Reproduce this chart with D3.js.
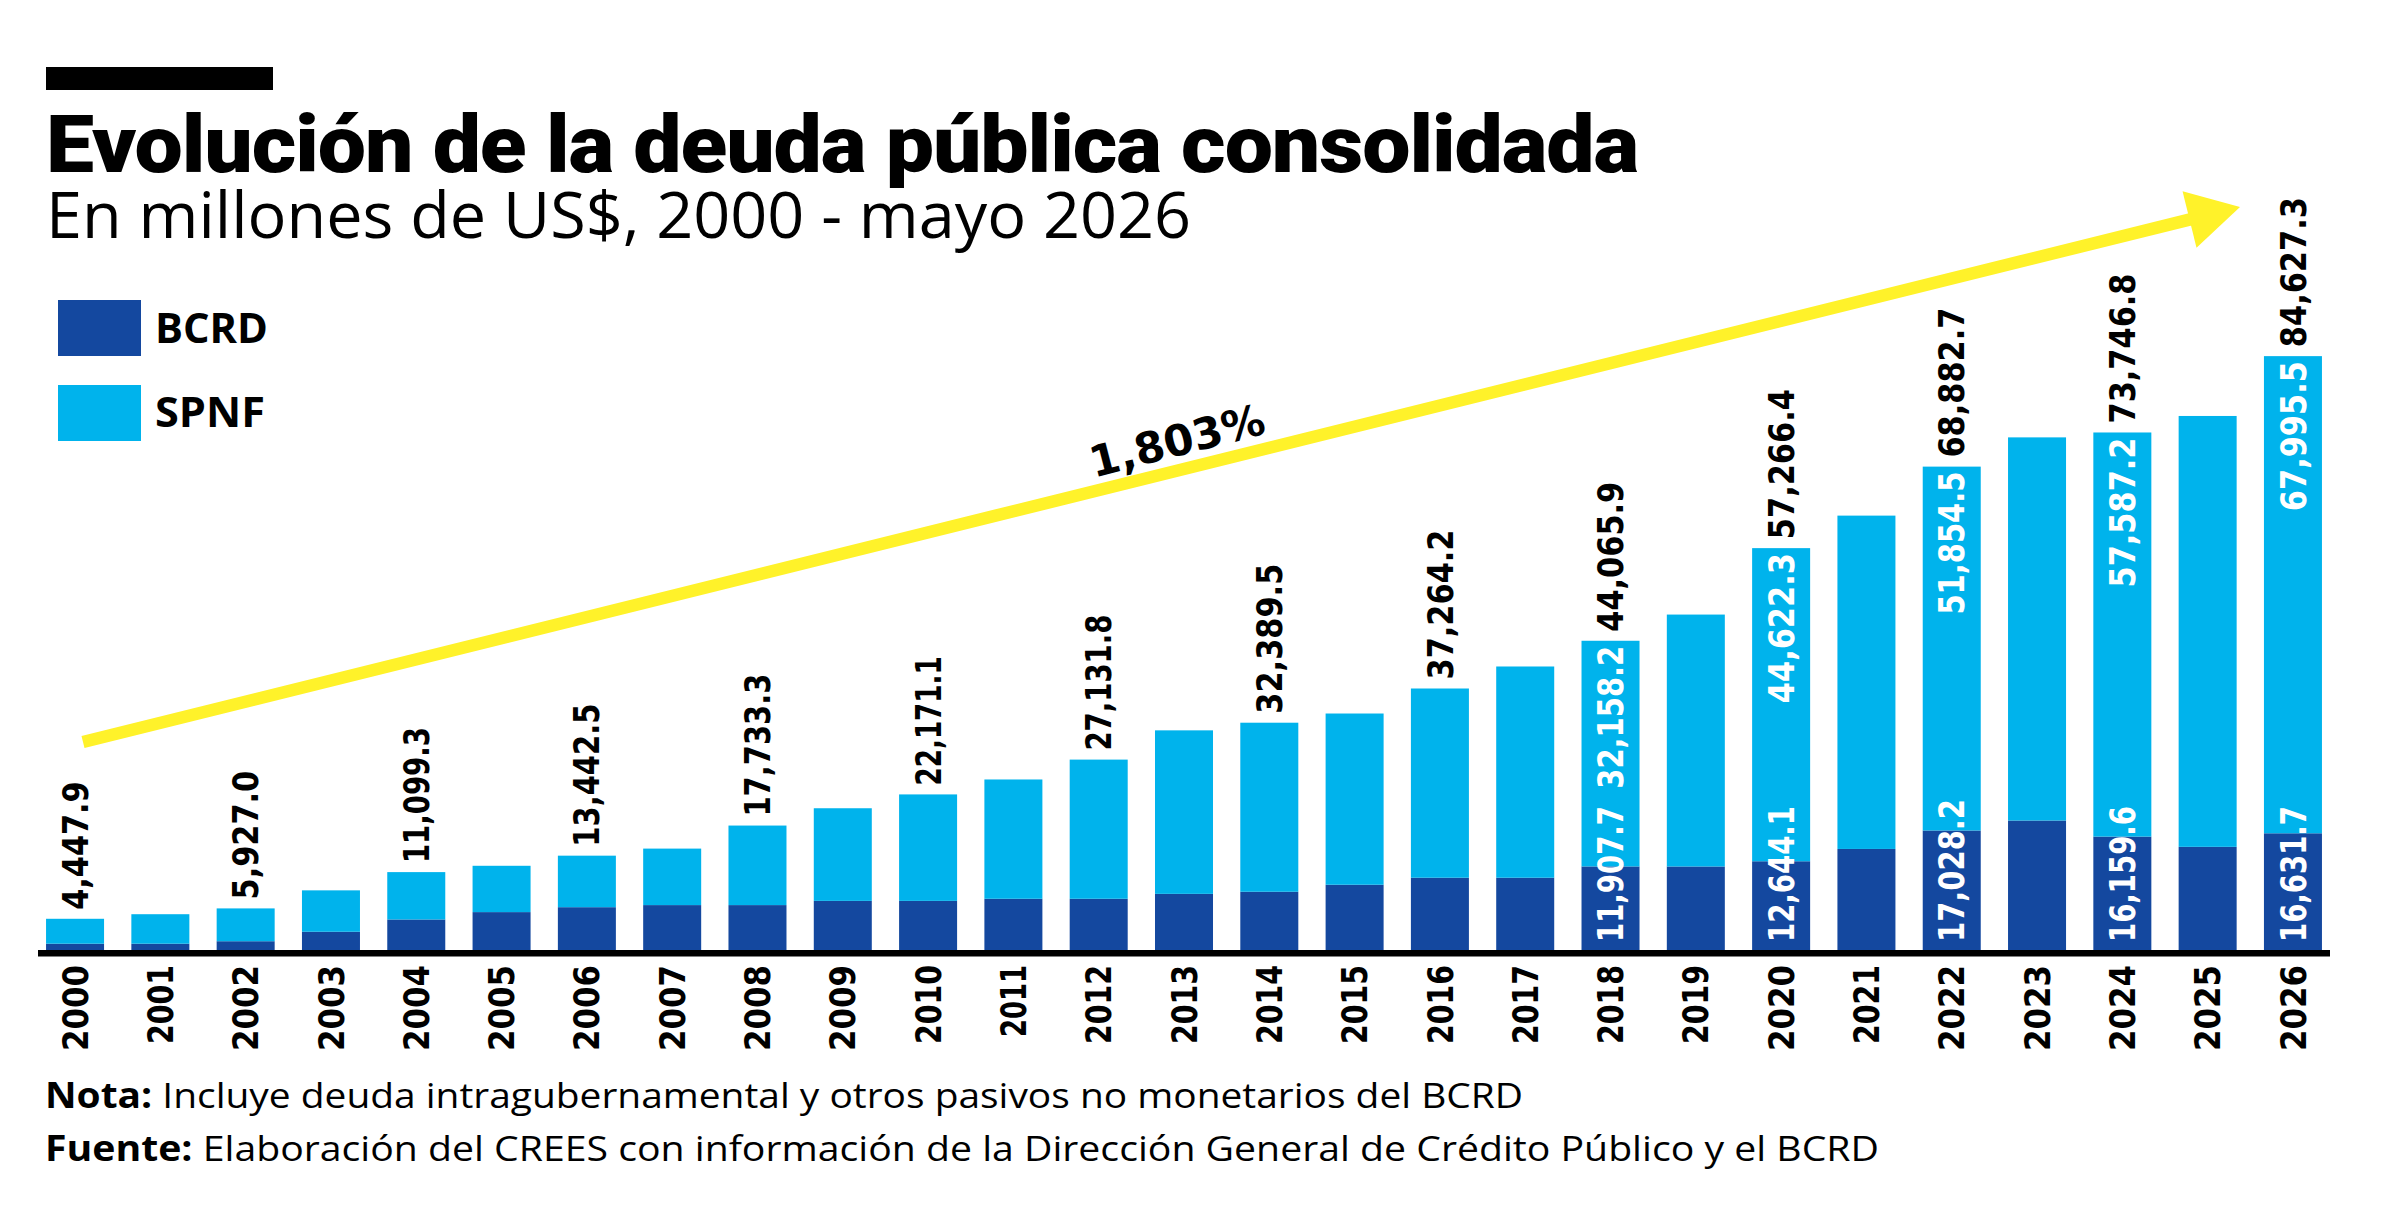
<!DOCTYPE html>
<html>
<head>
<meta charset="utf-8">
<script src="https://cdn.jsdelivr.net/npm/d3@7"></script>
<style>
  html, body { margin: 0; padding: 0; background: #fff; }
  svg { display: block; }
</style>
</head>
<body>
<svg id="chart" width="2400" height="1222"></svg>
<script>
// --- data (millones de US$) ---
const years = ["2000", "2001", "2002", "2003", "2004", "2005", "2006", "2007", "2008", "2009",
  "2010", "2011", "2012", "2013", "2014", "2015", "2016", "2017", "2018", "2019",
  "2020", "2021", "2022", "2023", "2024", "2025", "2026"];

const bcrd = [900, 900, 1250, 2600, 4350, 5400, 6100, 6400, 6400, 7000,
  7000, 7300, 7300, 8000, 8300, 9300, 10300, 10300, 11907.7, 11900,
  12644.1, 14400, 17028.2, 18450, 16159.6, 14700, 16631.7];

const spnf = [3547.9, 4200, 4677.0, 5900, 6749.3, 6600, 7342.5, 8050, 11333.3, 13200,
  15171.1, 17000, 19831.8, 23300, 24089.5, 24400, 26964.2, 30100, 32158.2, 35900,
  44622.3, 47500, 51854.5, 54600, 57587.2, 61400, 67995.5];

const totalLabels = ["4,447.9", "", "5,927.0", "", "11,099.3", "", "13,442.5", "", "17,733.3", "",
  "22,171.1", "", "27,131.8", "", "32,389.5", "", "37,264.2", "", "44,065.9", "",
  "57,266.4", "", "68,882.7", "", "73,746.8", "", "84,627.3"];

const segLabelYears = ["2018", "2020", "2022", "2024", "2026"];
const seriesNames = ["BCRD", "SPNF"];
const growthLabel = "1,803%";

const titleText = "Evolución de la deuda pública consolidada";
const subtitleText = "En millones de US$, 2000 - mayo 2026";
const notaText = "Incluye deuda intragubernamental y otros pasivos no monetarios del BCRD";
const fuenteText = "Elaboración del CREES con información de la Dirección General de Crédito Público y el BCRD";

// --- setup ---
const svg = d3.select("#chart");
const colors = { BCRD: "#14489f", SPNF: "#00b3ec" };
const arrowColor = "#fff22a";
const numFont = "'DejaVu Sans', Roboto, sans-serif";
const textFont = "'Open Sans', 'Noto Sans', sans-serif";

svg.append("rect").attr("width", 2400).attr("height", 1222).attr("fill", "#fff");

const x = d3.scaleBand()
  .domain(years)
  .range([32.4, 2335.6])
  .paddingInner(0.32)
  .paddingOuter(0.16);

const y = d3.scaleLinear()
  .domain([0, 80000])
  .range([950, 388.6]);

const rows = years.map((yr, i) => ({
  year: yr, BCRD: bcrd[i], SPNF: spnf[i], total: bcrd[i] + spnf[i], label: totalLabels[i]
}));

const stacked = d3.stack().keys(seriesNames)(rows);
const cx = d => x(d.year) + x.bandwidth() / 2;

// numbers in the original use proportional figures (narrow "1")
function numWidth(s) {
  let w = 0;
  for (const ch of s) w += ch === "1" ? 14.5 : (ch === "," || ch === ".") ? 10.5 : 21.5;
  return w;
}
function numStyle(sel) {
  sel.style("font-family", numFont).style("font-weight", 700).style("font-size", "35px")
    .attr("lengthAdjust", "spacingAndGlyphs")
    .attr("textLength", function () { return numWidth(this.textContent); });
}

// header
svg.append("rect").attr("x", 46).attr("y", 67).attr("width", 227).attr("height", 23).attr("fill", "#000");

svg.append("text")
  .attr("x", 46).attr("y", 172)
  .attr("textLength", 1592).attr("lengthAdjust", "spacingAndGlyphs")
  .style("font-family", "Roboto, sans-serif").style("font-weight", 900)
  .style("font-size", "80px").style("letter-spacing", "-1px")
  .text(titleText);

svg.append("text")
  .attr("x", 46).attr("y", 238)
  .attr("textLength", 1145).attr("lengthAdjust", "spacingAndGlyphs")
  .style("font-family", textFont).style("font-weight", 400)
  .style("font-size", "64px")
  .text(subtitleText);

// legend
const legend = svg.append("g");
seriesNames.forEach((name, i) => {
  legend.append("rect")
    .attr("x", 58).attr("y", 300 + i * 85)
    .attr("width", 83).attr("height", 56)
    .attr("fill", colors[name]);
  legend.append("text")
    .attr("x", 155).attr("y", 343 + i * 84)
    .attr("textLength", i === 0 ? 113 : 110).attr("lengthAdjust", "spacingAndGlyphs")
    .style("font-family", textFont).style("font-weight", 700)
    .style("font-size", "41px")
    .text(name);
});

// bars
svg.append("g")
  .selectAll("g")
  .data(stacked)
  .join("g")
  .attr("fill", s => colors[s.key])
  .selectAll("rect")
  .data(s => s)
  .join("rect")
  .attr("x", d => x(d.data.year))
  .attr("y", d => y(d[1]))
  .attr("width", x.bandwidth())
  .attr("height", d => y(d[0]) - y(d[1]));

// baseline
svg.append("line")
  .attr("x1", x.range()[0] + 5.6).attr("x2", x.range()[1] - 5.6)
  .attr("y1", y(0) + 3.2).attr("y2", y(0) + 3.2)
  .attr("stroke", "#000").attr("stroke-width", 6.5);

// year axis
const xAxis = d3.axisBottom(x).tickSize(0);
const axisG = svg.append("g")
  .attr("transform", `translate(0,${y(0)})`)
  .call(xAxis);
axisG.select(".domain").remove();
axisG.selectAll("text")
  .attr("transform", "rotate(-90)")
  .attr("x", -15).attr("y", 0).attr("dy", "0.36em")
  .attr("text-anchor", "end")
  .attr("fill", "#000")
  .call(numStyle);

// total labels above bars
svg.append("g")
  .selectAll("text")
  .data(rows.filter(d => d.label))
  .join("text")
  .attr("transform", d => `translate(${cx(d)},${y(d.total) - 9}) rotate(-90)`)
  .attr("dy", "0.36em")
  .attr("text-anchor", "start")
  .attr("fill", "#000")
  .text(d => d.label)
  .call(numStyle);

// segment labels inside bars
const fmt = d3.format(",.1f");
const segRows = rows.filter(d => segLabelYears.includes(d.year));
const inner = svg.append("g").attr("fill", "#fff");

inner.selectAll("text.bcrd")
  .data(segRows)
  .join("text")
  .attr("class", "bcrd")
  .attr("transform", d => `translate(${cx(d)},${y(0) - 8}) rotate(-90)`)
  .attr("dy", "0.36em")
  .attr("text-anchor", "start")
  .text(d => fmt(d.BCRD))
  .call(numStyle);

inner.selectAll("text.spnf")
  .data(segRows)
  .join("text")
  .attr("class", "spnf")
  .attr("transform", d => `translate(${cx(d)},${y(d.total) + 5}) rotate(-90)`)
  .attr("dy", "0.36em")
  .attr("text-anchor", "end")
  .text(d => fmt(d.SPNF))
  .call(numStyle);

// growth arrow
const a0 = [83, 742], tip = [2240, 207];
const len = Math.hypot(tip[0] - a0[0], tip[1] - a0[1]);
const u = [(tip[0] - a0[0]) / len, (tip[1] - a0[1]) / len];
const nrm = [-u[1], u[0]];
const headLen = 52, headHalf = 29;
const back = [tip[0] - headLen * u[0], tip[1] - headLen * u[1]];

svg.append("line")
  .attr("x1", a0[0]).attr("y1", a0[1])
  .attr("x2", back[0] + 6 * u[0]).attr("y2", back[1] + 6 * u[1])
  .attr("stroke", arrowColor).attr("stroke-width", 12.5);

svg.append("path")
  .attr("d", d3.line()([
    tip,
    [back[0] + headHalf * nrm[0], back[1] + headHalf * nrm[1]],
    [back[0] - headHalf * nrm[0], back[1] - headHalf * nrm[1]]
  ]) + "Z")
  .attr("fill", arrowColor);

const angle = Math.atan2(u[1], u[0]) * 180 / Math.PI;
const lx = 1184;
const t = (lx - a0[0]) / u[0];
const ly = a0[1] + t * u[1];
svg.append("text")
  .attr("transform", `translate(${lx - 14 * nrm[0]},${ly - 14 * nrm[1]}) rotate(${angle - 0.5})`)
  .attr("text-anchor", "middle")
  .style("font-family", "'DejaVu Sans', sans-serif").style("font-weight", 700)
  .style("font-size", "43px")
  .text(growthLabel);

// notes
const notes = [["Nota:", notaText, 1108, 1478], ["Fuente:", fuenteText, 1161, 1834]];
notes.forEach(([head, body, yy, w]) => {
  const t = svg.append("text")
    .attr("x", 45).attr("y", yy)
    .attr("textLength", w).attr("lengthAdjust", "spacingAndGlyphs")
    .style("font-family", textFont).style("font-size", "35px");
  t.append("tspan").style("font-weight", 700).text(head);
  t.append("tspan").style("font-weight", 400).text(" " + body);
});
</script>
</body>
</html>
